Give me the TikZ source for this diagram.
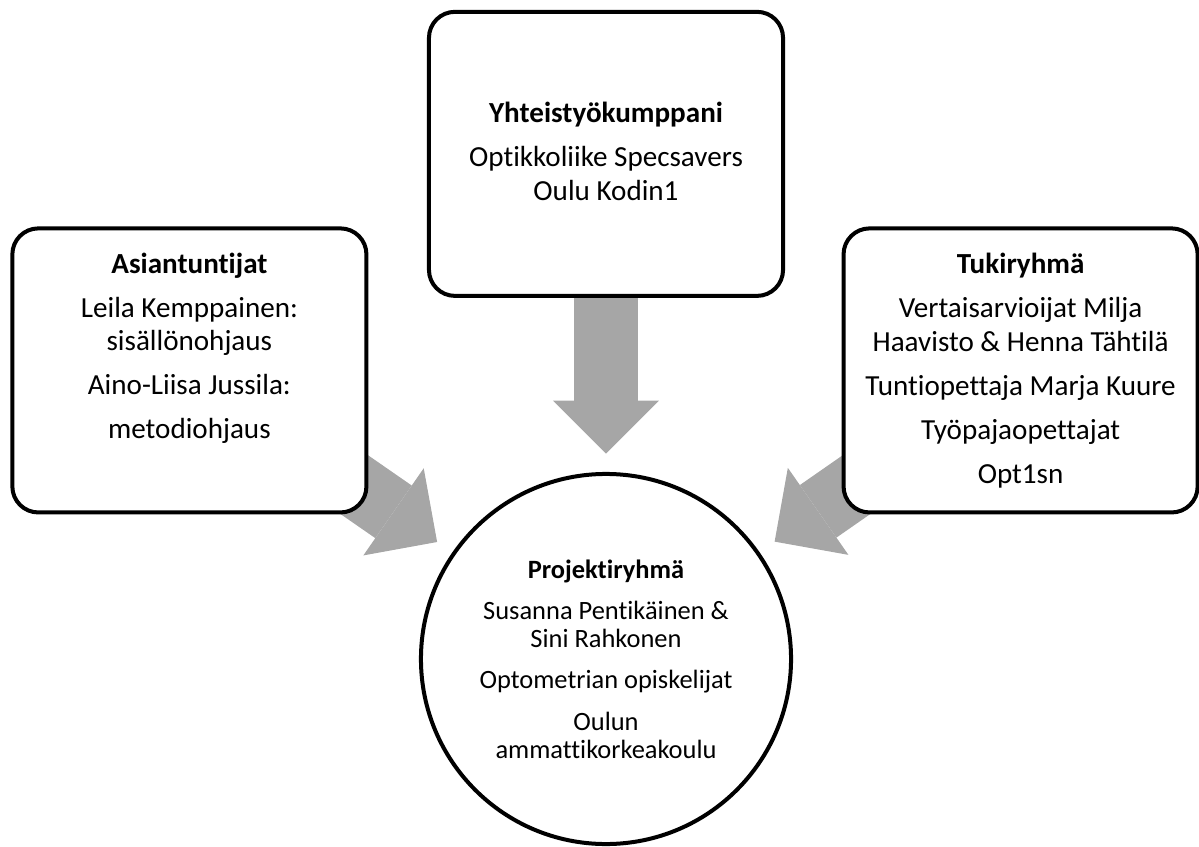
\documentclass[tikz,border=0pt]{standalone}
\usepackage{fontspec}
\setmainfont{Carlito}[Ligatures=NoCommon,RawFeature=-calt]
\usetikzlibrary{positioning,arrows.meta,backgrounds}
\definecolor{arrowgray}{RGB}{166,166,166}

\begin{document}
\begin{tikzpicture}[x=0.025cm,y=-0.025cm,on grid,
    panel/.style={draw,line width=0.1cm,fill=white,rectangle,rounded corners=0.65cm,
      minimum width=8.85cm,minimum height=7.1cm,inner sep=0pt},
    hub/.style={draw,line width=0.1cm,fill=white,circle,minimum size=9.25cm,inner sep=0pt},
    paneltext/.style={align=center,inner sep=0pt,font=\fontsize{20.7}{23.8}\selectfont},
    hubtext/.style={align=center,inner sep=0pt,font=\fontsize{18.8}{19.9}\selectfont},
    bigarrow/.style={arrowgray,line width=1.6cm,shorten >=0.46cm,
      -{Triangle[length=1.325cm,width=2.65cm,line width=0pt]}}]
    \useasboundingbox (0,0) rectangle (1199,847);
    \node[hub]   (proj) at (606,659) {};
    \node[panel] (yht)  [above=12.625cm of proj] {};
    \node[panel] (asi)  [above left=7.2125cm and 10.4125cm of proj] {};
    \node[panel] (tuki) [above right=7.2125cm and 10.3625cm of proj] {};
    \node[paneltext] (yht_t) at ([yshift=0.06cm]yht.center)
      {\textbf{Yhteistyökumppani}\\[7.5pt] Optikkoliike Specsavers\\ Oulu Kodin1};
    \node[paneltext] (asi_t) at ([yshift=0.55cm]asi.center)
      {\textbf{Asiantuntijat}\\[7.5pt] Leila Kemppainen:\\ sisällönohjaus\\[7.5pt]
       Aino-Liisa Jussila:\\[7.5pt] metodiohjaus};
    \node[paneltext] (tuki_t) at (tuki.center)
      {\textbf{Tukiryhmä}\\[7.5pt] Vertaisarvioijat Milja\\ Haavisto \& Henna Tähtilä\\[7.5pt]
       Tuntiopettaja Marja Kuure\\[7.5pt] Työpajaopettajat\\[7.5pt] Opt1sn};
    \node[hubtext] (proj_t) at (proj.center)
      {\textbf{Projektiryhmä}\\[9.5pt] Susanna Pentikäinen \&\\ Sini Rahkonen\\[9.5pt]
       Optometrian opiskelijat\\[9.5pt] Oulun\\ ammattikorkeakoulu};
    \begin{scope}[on background layer]
      \draw[bigarrow] (yht.center) -- (proj);
      \draw[bigarrow] (asi.center) -- (proj);
      \draw[bigarrow] (tuki.center) -- (proj);
    \end{scope} % arrows
\end{tikzpicture}
\end{document}
